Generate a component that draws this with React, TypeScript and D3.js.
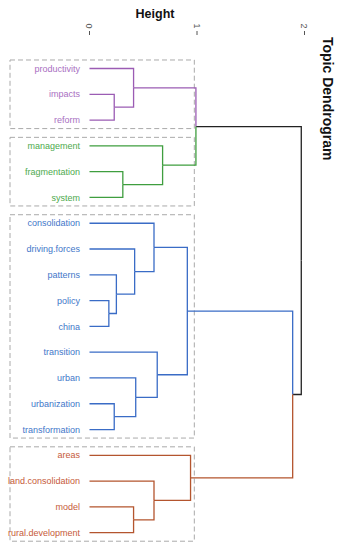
import React from 'react';
import * as d3 from 'd3';

// leaf order top to bottom
const leaves = [
  'productivity', 'impacts', 'reform',
  'management', 'fragmentation', 'system',
  'consolidation', 'driving.forces', 'patterns', 'policy', 'china',
  'transition', 'urban', 'urbanization', 'transformation',
  'areas', 'land.consolidation', 'model', 'rural.development',
];
const leafGroup = [0, 0, 0, 1, 1, 1, 2, 2, 2, 2, 2, 2, 2, 2, 2, 3, 3, 3, 3];

// hclust style merges: negative = leaf (1-based), positive = earlier merge row (1-based)
const merges: [number, number][] = [
  [-10, -11], // policy, china
  [-2, -3], // impacts, reform
  [-14, -15], // urbanization, transformation
  [-9, 1], // patterns
  [-5, -6], // fragmentation, system
  [-1, 2], // productivity
  [-18, -19], // model, rural.development
  [-8, 4], // driving.forces
  [-13, 3], // urban
  [-7, 8], // consolidation
  [-17, 7], // land.consolidation
  [-12, 9], // transition
  [-4, 5], // management
  [10, 12], // blue top
  [-16, 11], // areas
  [6, 13], // purple + green
  [14, 15], // blue + red
  [16, 17], // root
];
const mergeHeights = [
  0.18, 0.23, 0.23, 0.25, 0.31, 0.41, 0.41, 0.42, 0.43, 0.6, 0.6, 0.63,
  0.68, 0.91, 0.94, 0.99, 1.89, 1.97,
];
const heightTicks = [0, 1, 2];

const lineColors = ['#9b5cb4', '#3f9e3f', '#3a6cc6', '#b4552e'];
const textColors = ['#a96fc2', '#4eaa4e', '#3f77c9', '#c65a3a'];

type Node = { name?: string; idx?: number; height: number; children?: Node[] };

function buildTree(): Node {
  const nodes: Node[] = [];
  const get = (k: number): Node =>
    k < 0 ? { name: leaves[-k - 1], idx: -k - 1, height: 0 } : nodes[k - 1];
  merges.forEach(([a, b], i) => {
    nodes.push({ height: mergeHeights[i], children: [get(a), get(b)] });
  });
  return nodes[nodes.length - 1];
}

export default function App() {
  const width = 341;
  const height = 550;
  const x = d3.scaleLinear().domain([0, 2]).range([89.5, 304.5]);
  const y = d3.scalePoint<string>().domain(leaves).range([68.5, 532.7]);
  const step = y.step();

  const root = d3.hierarchy<Node>(buildTree());
  const pos = new Map<any, { px: number; py: number; group: number }>();
  root.eachAfter((n) => {
    if (!n.children) {
      const i = n.data.idx as number;
      pos.set(n, { px: x(0), py: y(n.data.name as string) as number, group: leafGroup[i] });
    } else {
      const ps = n.children.map((c) => pos.get(c)!);
      const g = ps.every((p) => p.group === ps[0].group) ? ps[0].group : -1;
      pos.set(n, { px: x(n.data.height), py: d3.mean(ps, (p) => p.py) as number, group: g });
    }
  });

  const edges: { d: string; color: string }[] = [];
  root.each((n) => {
    if (!n.children) return;
    const p = pos.get(n)!;
    n.children.forEach((c) => {
      const q = pos.get(c)!;
      const path = d3.path();
      path.moveTo(p.px, p.py);
      path.lineTo(p.px, q.py);
      path.lineTo(q.px, q.py);
      edges.push({ d: path.toString(), color: q.group >= 0 ? lineColors[q.group] : '#222' });
    });
  });

  // dashed boxes around each cluster
  const boxes = d3.range(4).map((g) => {
    const names = leaves.filter((_, i) => leafGroup[i] === g);
    const y0 = (y(names[0]) as number) - step * 0.33;
    const y1 = (y(names[names.length - 1]) as number) + step * 0.33;
    return { y0, y1 };
  });

  const font = '"Liberation Sans", Arial, sans-serif';

  return (
    <svg
      width={width}
      height={height}
      style={{ position: 'absolute', left: 0, top: 0, background: '#fff' }}
      fontFamily={font}
    >
      <text x={155} y={18} textAnchor="middle" fontSize={12.5} fontWeight="bold" fill="#111">
        Height
      </text>
      {heightTicks.map((t) => (
        <g key={t} transform={`translate(${x(t)},0)`}>
          <text
            transform="translate(0,26) rotate(90)"
            textAnchor="middle"
            dy="0.35em"
            fontSize={9}
            fill="#555"
          >
            {t}
          </text>
          <line y1={31} y2={35} stroke="#555" strokeWidth={1} />
        </g>
      ))}
      <text
        transform="translate(328,37) rotate(90)"
        dy="0.35em"
        fontSize={14}
        fontWeight="bold"
        fill="#111"
      >
        Topic Dendrogram
      </text>
      {boxes.map((b, i) => (
        <rect
          key={i}
          x={10}
          y={b.y0}
          width={x(0.975) - 10}
          height={b.y1 - b.y0}
          fill="none"
          stroke="#aaa"
          strokeWidth={1}
          strokeDasharray="5,3"
        />
      ))}
      {edges.map((e, i) => (
        <path key={i} d={e.d} fill="none" stroke={e.color} strokeWidth={1.3} />
      ))}
      {leaves.map((name, i) => (
        <text
          key={name}
          x={80}
          y={y(name)}
          dy="0.35em"
          textAnchor="end"
          fontSize={9}
          fill={textColors[leafGroup[i]]}
        >
          {name}
        </text>
      ))}
    </svg>
  );
}
